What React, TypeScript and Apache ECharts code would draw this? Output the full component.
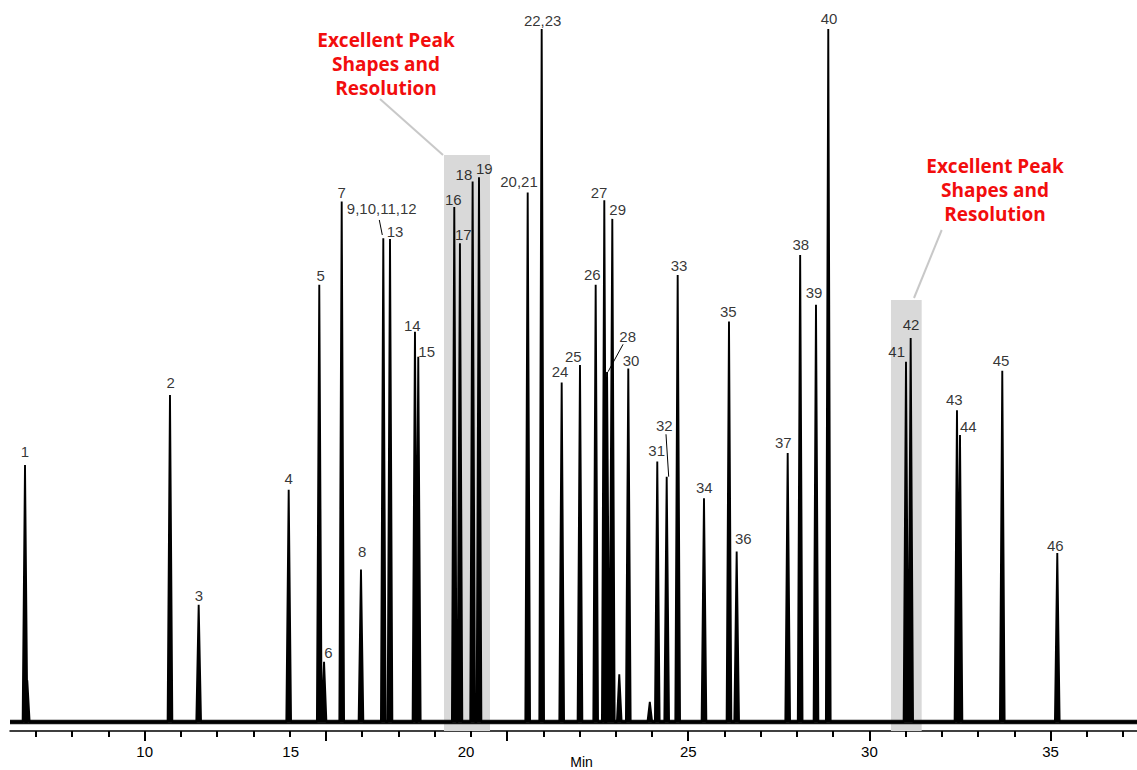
import React, { useEffect, useRef } from 'react';
import * as echarts from 'echarts';

// Retention times (min), heights (% of largest peak) and labels of numbered peaks
const peakLabels = ['1', '2', '3', '4', '5', '6', '7', '8', '9,10,11,12', '13', '14', '15', '16', '17', '18', '19', '20,21', '22,23', '24', '25', '26', '27', '28', '29', '30', '31', '32', '33', '34', '35', '36', '37', '38', '39', '40', '41', '42', '43', '44', '45', '46'];
const peakTimes = [6.697, 10.698, 11.49, 13.974, 14.818, 14.95, 15.437, 15.969, 16.585, 16.77, 17.459, 17.55, 18.544, 18.7, 19.05, 19.226, 20.57, 20.956, 21.508, 22.013, 22.446, 22.684, 22.76, 22.905, 23.346, 24.146, 24.406, 24.709, 25.435, 26.125, 26.337, 27.745, 28.089, 28.526, 28.865, 31.01, 31.139, 32.417, 32.5, 33.667, 35.185];
const peakHeights = [37.1, 47.2, 16.9, 33.5, 63.1, 8.7, 75.1, 22.0, 69.8, 69.7, 56.3, 52.7, 74.3, 69.1, 78.0, 78.6, 76.4, 100, 49.0, 51.5, 63.1, 75.3, 50.5, 72.6, 51.0, 37.6, 35.4, 64.5, 32.3, 57.8, 24.6, 38.8, 67.4, 60.2, 100, 52.0, 55.4, 45.0, 41.4, 50.7, 24.4];

// Small unlabeled features (tailing of peak 1, minor peaks)
const minorTimes = [6.76, 23.097, 23.94];
const minorHeights = [6.0, 6.9, 2.9];

// X axis
const xMin = 6.283;
const xMax = 37.385;
const majorTicks = [10, 15, 20, 25, 30, 35];
const minorTicks = [7, 8, 9, 11, 12, 13, 14, 16, 17, 18, 19, 21, 22, 23, 24, 26, 27, 28, 29, 31, 32, 33, 34, 36, 37];
const tickLabelValues = [10, 14.03, 18.867, 25, 30, 35];
const tickLabelTexts = ['10', '15', '20', '25', '30', '35'];

// Highlighted regions [start, end, top]
const regionStart = [18.26, 30.595];
const regionEnd = [19.53, 31.443];
const regionTop = [81.8, 60.9];

const calloutLines = ['Excellent Peak', 'Shapes and', 'Resolution'];

// ---- layout (pixels) ----
const labelOffsets: number[][] = [
  [0, -13], [0.7, -12.3], [0.3, -9.3], [0, -11], [1.4, -9.7], [4.4, -9], [0, -9], [1.3, -17.6],
  [-1.6, -30], [5, -7], [-2.7, -6.7], [8.4, -5], [-1, -7.3], [3.3, -8.3], [-8.7, -6.7], [5.3, -9],
  [-8.7, -10.6], [1, -8.6], [-1.7, -10.6], [-6.7, -8.3], [-3.4, -10], [-5.3, -7.3], [20.6, -35.3],
  [5.4, -9], [2.7, -7.6], [-0.6, -10.7], [-2.4, -51], [1.3, -10], [0.3, -10.6], [-0.7, -10],
  [6.6, -13.4], [-4.4, -10.6], [0.7, -10], [-2, -12.3], [0.7, -10.3], [-9.3, -10], [0.3, -14],
  [-2.7, -10.7], [8.3, -9], [-1.3, -9.7], [-2, -7.7],
];
const leaders = [
  { label: '9,10,11,12', from: [-4, -18.3], to: [-1, -3.3] },
  { label: '28', from: [16, -27.7], to: [1, -0.3] },
  { label: '32', from: [-0.7, -42.4], to: [2, 0] },
];
const callouts = [
  { x: 386, y: 40, line: [380, 99, 443, 155] },
  { x: 995, y: 166, line: [914, 298, 941.7, 230] },
];
const HALF_WIDTH = 0.065;
const YMIN = -1.3;
const labelFont = '"Liberation Sans", Arial, sans-serif';

export default function App() {
  const ref = useRef<HTMLDivElement>(null);
  useEffect(() => {
    if (!ref.current) return;
    const chart = echarts.init(ref.current, undefined, { renderer: 'svg' });

    const all = peakTimes.map((t, i) => [t, peakHeights[i]])
      .concat(minorTimes.map((t, i) => [t, minorHeights[i]]))
      .sort((a, b) => a[0] - b[0]);
    const trace: number[][] = [[xMin, 0]];
    all.forEach(([t, h]) => {
      trace.push([t - HALF_WIDTH, 0], [t, h], [t + HALF_WIDTH, 0]);
    });
    trace.push([xMax, 0]);

    const fmt = (v: number) => {
      let best = 0;
      tickLabelValues.forEach((x, i) => { if (Math.abs(x - v) < Math.abs(tickLabelValues[best] - v)) best = i; });
      return tickLabelTexts[best];
    };

    chart.setOption({
      animation: false,
      grid: { left: 10, right: 0, top: 29, bottom: 39, containLabel: false, outerBoundsMode: 'none' },
      xAxis: [
        {
          type: 'value', min: xMin, max: xMax,
          name: 'Min', nameLocation: 'middle', nameGap: 24, nameMoveOverlap: false,
          nameTextStyle: { color: '#000', fontSize: 14, fontFamily: labelFont, padding: [0, 0, 0, 16] },
          axisLine: { show: true, onZero: false, lineStyle: { color: '#000', width: 1.5 } },
          axisTick: { show: true, customValues: majorTicks, length: 10, lineStyle: { color: '#000', width: 2 } },
          axisLabel: { show: true, customValues: tickLabelValues, formatter: fmt, color: '#000', fontSize: 15, fontFamily: labelFont, margin: 13 },
          splitLine: { show: false },
        },
        {
          type: 'value', min: xMin, max: xMax, position: 'bottom',
          axisLine: { show: false, onZero: false },
          axisTick: { show: true, customValues: minorTicks, length: 6, lineStyle: { color: '#000', width: 2 } },
          axisLabel: { show: false },
          splitLine: { show: false },
        },
      ],
      yAxis: { type: 'value', min: YMIN, max: 100, show: false },
      series: [
        {
          type: 'line', data: [], xAxisIndex: 0, z: 1,
          markArea: {
            silent: true,
            itemStyle: { color: '#d9d9d9' },
            data: regionStart.map((s, i) => [{ xAxis: s, yAxis: regionTop[i] }, { xAxis: regionEnd[i], yAxis: YMIN }]),
          },
        },
        {
          type: 'line', data: [[xMin, 0], [xMax, 0]], symbol: 'none', z: 2,
          lineStyle: { color: '#111', width: 4.5 },
        },
        {
          type: 'line', data: trace, symbol: 'none', z: 3,
          lineStyle: { color: '#000', width: 1.9 },
          areaStyle: { color: '#000', opacity: 1 },
        },
        {
          type: 'scatter', z: 4, symbolSize: 0,
          data: peakTimes.map((t, i) => ({
            value: [t, peakHeights[i]], name: peakLabels[i],
            label: { offset: labelOffsets[i] },
          })),
          label: {
            show: true, position: 'inside', formatter: (p: any) => p.name,
            color: '#000', fontSize: 15, fontFamily: labelFont,
          },
        },
      ],
    });

    const graphic: any[] = [];
    leaders.forEach((ld) => {
      const i = peakLabels.indexOf(ld.label);
      const p = chart.convertToPixel({ gridIndex: 0 }, [peakTimes[i], peakHeights[i]]) as number[];
      graphic.push({
        type: 'line', z: 10,
        shape: { x1: p[0] + ld.from[0], y1: p[1] + ld.from[1], x2: p[0] + ld.to[0], y2: p[1] + ld.to[1] },
        style: { stroke: '#000', lineWidth: 1 },
      });
    });
    callouts.forEach((c) => {
      graphic.push({ type: 'line', z: 5, shape: { x1: c.line[0], y1: c.line[1], x2: c.line[2], y2: c.line[3] }, style: { stroke: '#c8c8c8', lineWidth: 2 } });
      calloutLines.forEach((txt, k) => {
        graphic.push({
          type: 'text', z: 10, x: c.x, y: c.y + k * 24,
          style: { text: txt, fill: '#f20d0d', font: 'bold 19px "Open Sans", "Noto Sans", sans-serif', textAlign: 'center', textVerticalAlign: 'middle' },
        });
      });
    });
    chart.setOption({ graphic });

    return () => chart.dispose();
  }, []);
  return <div ref={ref} style={{ position: 'absolute', left: 0, top: 0, width: 1137, height: 770, background: '#fff' }} />;
}
